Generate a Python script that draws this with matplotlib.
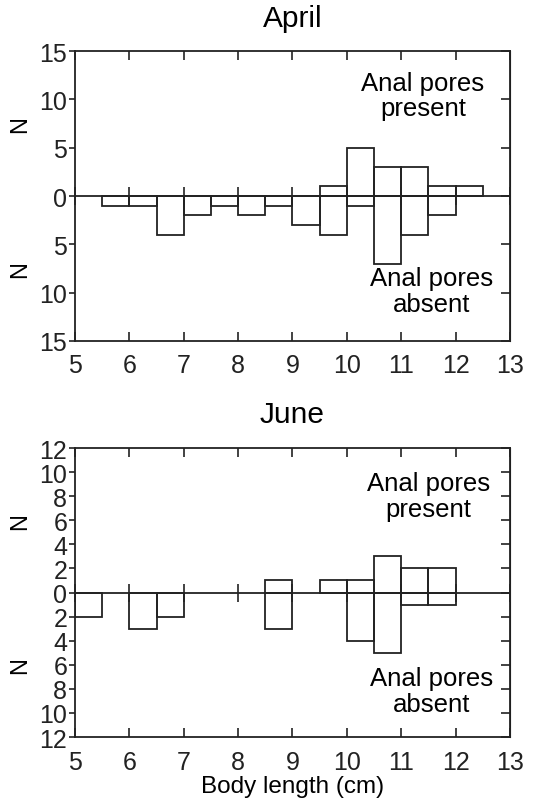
import numpy as np
import matplotlib.pyplot as plt
import matplotlib.transforms as mtransforms

plt.rcParams['font.family'] = ['Liberation Sans', 'DejaVu Sans']

# bins of 0.5 cm body length (left edges)
april_edges = [5.5, 6.0, 6.5, 7.0, 7.5, 8.0, 8.5, 9.0, 9.5, 10.0, 10.5, 11.0, 11.5, 12.0]
april_present = [0, 0, 0, 0, 0, 0, 0, 0, 1, 5, 3, 3, 1, 1]
april_absent = [1, 1, 4, 2, 1, 2, 1, 3, 4, 1, 7, 4, 2, 0]

june_edges = [5.0, 5.5, 6.0, 6.5, 7.0, 7.5, 8.0, 8.5, 9.0, 9.5, 10.0, 10.5, 11.0, 11.5]
june_present = [0, 0, 0, 0, 0, 0, 0, 1, 0, 1, 1, 3, 2, 2]
june_absent = [2, 0, 3, 2, 0, 0, 0, 3, 0, 0, 4, 5, 1, 1]

x_ticks = [5, 6, 7, 8, 9, 10, 11, 12, 13]
april_yticks = [-15, -10, -5, 0, 5, 10, 15]
june_yticks = [-12, -10, -8, -6, -4, -2, 0, 2, 4, 6, 8, 10, 12]

line_col = '#222222'
bin_w = 0.5


def draw_panel(ax, title, edges, present, absent, yticks, ylim,
               present_pos, absent_pos, n_pos, title_y):
    edges = np.array(edges)
    present = np.array(present)
    absent = np.array(absent)
    # draw only non-empty bins
    m = present > 0
    ax.bar(edges[m], present[m], width=bin_w, align='edge', fill=False,
           edgecolor=line_col, linewidth=1.3)
    m = absent > 0
    ax.bar(edges[m], -absent[m], width=bin_w, align='edge', fill=False,
           edgecolor=line_col, linewidth=1.3)

    ax.set_xlim(5, 13)
    ax.set_ylim(-ylim, ylim)
    ax.set_xticks(x_ticks)
    ax.set_yticks(yticks)
    ax.set_yticklabels([str(abs(v)) for v in yticks])
    ax.tick_params(axis='both', labelsize=18, colors=line_col, width=1.2)
    ax.tick_params(axis='x', direction='in', top=True, length=6.5, pad=9)
    ax.tick_params(axis='y', which='both', left=True, right=False,
                   direction='out', length=4.5, pad=1)
    for s in ax.spines.values():
        s.set_linewidth(1.3)
        s.set_color(line_col)

    # right-hand ticks point inward, no labels
    rax = ax.secondary_yaxis('right')
    rax.set_yticks(yticks)
    rax.tick_params(direction='in', length=6.5, width=1.2, colors=line_col,
                    labelright=False)

    # zero line with crossing ticks
    zax = ax.secondary_xaxis(0, transform=ax.transData)
    zax.set_xticks(x_ticks)
    zax.tick_params(direction='inout', length=13, width=1.2, colors=line_col,
                    labelbottom=False)
    zax.spines['bottom'].set_linewidth(1.3)
    zax.spines['bottom'].set_color(line_col)

    ax.text(0.5, title_y, title, transform=ax.transAxes, ha='center',
            va='center', fontsize=21.5, color='black')
    ax.text(present_pos[0], present_pos[1], 'Anal pores\npresent',
            ha='center', va='center', fontsize=18.5, linespacing=1.1)
    ax.text(absent_pos[0], absent_pos[1], 'Anal pores\nabsent',
            ha='center', va='center', fontsize=18.5, linespacing=1.1)

    trans = mtransforms.blended_transform_factory(ax.transAxes, ax.transData)
    for yv in (n_pos, -n_pos):
        ax.text(-0.126, yv, 'N', transform=trans, rotation=90,
                ha='center', va='center', fontsize=17)


fig = plt.figure(figsize=(5.33, 8.03), dpi=100)
ax1 = fig.add_axes([0.1407, 0.5741, 0.816, 0.3611])
ax2 = fig.add_axes([0.1407, 0.0809, 0.816, 0.3599])

draw_panel(ax1, 'April', april_edges, april_present, april_absent,
           april_yticks, 15, (11.4, 10.4), (11.55, -9.8), 7.5, 1.114)
draw_panel(ax2, 'June', june_edges, june_present, june_absent,
           june_yticks, 12, (11.5, 8.0), (11.55, -8.2), 6.0, 1.118)

ax2.set_xlabel('Body length (cm)', fontsize=17.5, labelpad=1)

fig.savefig('out.png', dpi=100, facecolor='white')
